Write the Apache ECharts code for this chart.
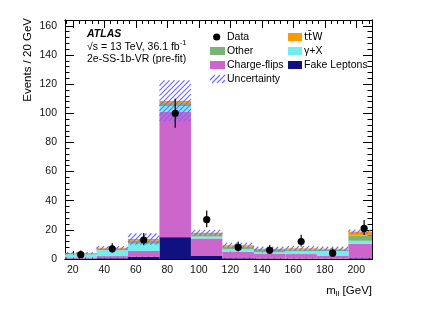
<!DOCTYPE html>
<html>
<head>
<meta charset="utf-8">
<script src="https://cdn.jsdelivr.net/npm/echarts@6/dist/echarts.min.js"></script>
<style>
html,body{margin:0;padding:0;background:#fff;}
#chart{width:432px;height:310px;}
</style>
</head>
<body>
<div id="chart"></div>
<script>
// ---- data ----
const binLow  = [15, 35, 55, 75, 95, 115, 135, 155, 175, 195];
const binHigh = [35, 55, 75, 95, 115, 135, 155, 175, 195, 215];
const binCenter = [25, 45, 65, 85, 105, 125, 145, 165, 185, 205];

const fakeLeptons = [0.3, 0.5, 1.5, 15, 2, 0.5, 0.3, 0.2, 0.2, 0.5];
const chargeFlips = [0.8, 1.5, 4, 86, 12, 4.5, 3.1, 3.2, 1.8, 10];
const gammaX      = [2, 4, 5, 4, 1.5, 1.6, 1.2, 2.1, 3.5, 2];
const other       = [0.7, 1, 2, 2, 1.5, 1.8, 1.5, 1.1, 0.9, 3.5];
const ttW         = [0.3, 0.7, 1.2, 1.5, 1, 1, 0.9, 0.7, 0.6, 2.8];
const uncertainty = [0.6, 1.2, 3.8, 14, 2, 1.6, 1.4, 1.6, 1.4, 1.4];

const dataY    = [3, 7, 13, 100, 27, 8, 6, 12, 4, 21];
const dataErrDn = [1.6, 2.6, 3.6, 10, 5.2, 2.8, 2.4, 3.4, 1.9, 4.6];
const dataErrUp = [2.9, 3.8, 4.8, 10, 6.3, 4.0, 3.6, 4.6, 3.2, 5.7];

const xMajorTicks = [20, 40, 60, 80, 100, 120, 140, 160, 180, 200];
const yMajorTicks = [0, 20, 40, 60, 80, 100, 120, 140, 160];

// ---- styling ----
const FONT = 'Liberation Sans, Arial, Helvetica, sans-serif';
const HATCH_COLOR = '#6a6aff';
const components = [
  {name: 'Fake Leptons', values: fakeLeptons, color: '#101080'},
  {name: 'Charge-flips', values: chargeFlips, color: '#cc66cc'},
  {name: '\u03b3+X', values: gammaX, color: '#72eeee'},
  {name: 'Other', values: other, color: '#78b478'},
  {name: 't\u0074\u0304W', values: ttW, color: '#ff9900'}
];

// diagonal "/" hatch lines clipped to a rectangle (style only)
function hatchLines(r, step) {
  const out = [];
  const x0 = r.x, y0 = r.y, x1 = r.x + r.width, y1 = r.y + r.height;
  const cStart = Math.ceil((x0 + y0) / step) * step;
  for (let c = cStart; c <= x1 + y1; c += step) {
    const xa = Math.max(x0, c - y1);
    const xb = Math.min(x1, c - y0);
    if (xb <= xa) continue;
    out.push({type: 'line', shape: {x1: xa, y1: c - xa, x2: xb, y2: c - xb},
              style: {stroke: HATCH_COLOR, lineWidth: 1.1}});
  }
  return out;
}

const xMinorTicks = [];
for (let v = 16; v <= 210; v += 4) xMinorTicks.push(v);
const yMinorTicks = [];
for (let v = 0; v <= 164; v += 4) yMinorTicks.push(v);

function binRect(params, api) {
  const p1 = api.coord([api.value(0), api.value(3)]);
  const p2 = api.coord([api.value(1), api.value(2)]);
  const cs = params.coordSys;
  return echarts.graphic.clipRectByRect(
    {x: p1[0], y: p1[1], width: p2[0] - p1[0], height: p2[1] - p1[1]},
    {x: cs.x, y: cs.y, width: cs.width, height: cs.height});
}

const series = [];
const cum = binLow.map(() => 0);
components.forEach(comp => {
  const d = comp.values.map((v, i) => {
    const base = cum[i];
    cum[i] += v;
    return [binLow[i], binHigh[i], base, cum[i]];
  });
  series.push({
    type: 'custom', name: comp.name, z: 2,
    renderItem: (params, api) => {
      const s = binRect(params, api);
      if (!s) return null;
      return {type: 'rect', shape: s, style: {fill: comp.color}};
    },
    encode: {x: [0, 1], y: [2, 3]},
    data: d, silent: true
  });
});
series.push({
  type: 'custom', name: 'Uncertainty', z: 3,
  renderItem: (params, api) => {
    const s = binRect(params, api);
    if (!s) return null;
    return {type: 'group', children: hatchLines(s, 5)};
  },
  encode: {x: [0, 1], y: [2, 3]},
  data: cum.map((t, i) => [binLow[i], binHigh[i], t - uncertainty[i], t + uncertainty[i]]),
  silent: true
});
series.push({
  type: 'custom', name: 'Data', z: 5,
  renderItem: (params, api) => {
    const x = api.value(0), y = api.value(1);
    const c = api.coord([x, y]);
    const lo = api.coord([x, y - api.value(2)]);
    const hi = api.coord([x, y + api.value(3)]);
    return {type: 'group', children: [
      {type: 'line', shape: {x1: c[0], y1: lo[1], x2: c[0], y2: hi[1]}, style: {stroke: '#000', lineWidth: 1.2}},
      {type: 'circle', shape: {cx: c[0], cy: c[1], r: 3.6}, style: {fill: '#000'}}
    ]};
  },
  encode: {x: 0, y: 1},
  data: dataY.map((v, i) => [binCenter[i], v, dataErrDn[i], dataErrUp[i]]),
  silent: true
});

function xAx(pos, ticks, len, labels) {
  return {
    type: 'value', position: pos, min: 15, max: 210, gridIndex: 0,
    axisLine: {show: true, onZero: false, lineStyle: {color: '#000', width: 1}},
    axisTick: {show: true, inside: true, length: len, customValues: ticks, lineStyle: {color: '#000', width: 1}},
    axisLabel: labels ? {show: true, customValues: xMajorTicks, fontSize: 10.5, color: '#111', fontFamily: FONT, margin: 6} : {show: false},
    splitLine: {show: false}
  };
}
function yAx(pos, ticks, len, labels) {
  return {
    type: 'value', position: pos, min: 0, max: 164, gridIndex: 0,
    axisLine: {show: true, onZero: false, lineStyle: {color: '#000', width: 1}},
    axisTick: {show: true, inside: true, length: len, customValues: ticks, lineStyle: {color: '#000', width: 1}},
    axisLabel: labels ? {show: true, customValues: yMajorTicks, fontSize: 10.5, color: '#111', fontFamily: FONT, margin: 8} : {show: false},
    splitLine: {show: false}
  };
}

const legendCol1X = 210, legendCol2X = 288;
const graphics = [
  {type: 'text', left: 87, top: 29, style: {text: 'ATLAS', font: 'italic bold 10.5px ' + FONT, fill: '#000'}},
  {type: 'text', left: 87, top: 39, style: {
    text: '{a|\u221As = 13 TeV, 36.1 fb}{s|-1}',
    rich: {a: {fontSize: 10.5, fontFamily: FONT, fill: '#000', verticalAlign: 'bottom'},
           s: {fontSize: 7.5, fontFamily: FONT, fill: '#000', verticalAlign: 'top', padding: [0, 0, 6, 0]}}
  }},
  {type: 'text', left: 87, top: 54, style: {text: '2e-SS-1b-VR (pre-fit)', font: '10.5px ' + FONT, fill: '#000'}},
  // legend
  {type: 'circle', shape: {cx: 216.7, cy: 37, r: 3.6}, style: {fill: '#000'}},
  {type: 'text', x: 227, y: 37, style: {text: 'Data', font: '10.5px ' + FONT, fill: '#000', verticalAlign: 'middle'}},
  {type: 'rect', shape: {x: legendCol1X, y: 47, width: 15, height: 8}, style: {fill: components[3].color}},
  {type: 'text', x: 227, y: 51, style: {text: components[3].name, font: '10.5px ' + FONT, fill: '#000', verticalAlign: 'middle'}},
  {type: 'rect', shape: {x: legendCol1X, y: 61, width: 15, height: 8}, style: {fill: components[1].color}},
  {type: 'text', x: 227, y: 65, style: {text: components[1].name, font: '10.5px ' + FONT, fill: '#000', verticalAlign: 'middle'}},
  {type: 'group', children: hatchLines({x: legendCol1X, y: 75, width: 15, height: 8}, 5)},
  {type: 'text', x: 227, y: 79, style: {text: 'Uncertainty', font: '10.5px ' + FONT, fill: '#000', verticalAlign: 'middle'}},
  {type: 'rect', shape: {x: legendCol2X, y: 33, width: 14, height: 8}, style: {fill: components[4].color}},
  {type: 'text', x: 304, y: 37, style: {text: components[4].name, font: '10.5px DejaVu Sans, ' + FONT, fill: '#000', verticalAlign: 'middle'}},
  {type: 'rect', shape: {x: legendCol2X, y: 47, width: 14, height: 8}, style: {fill: components[2].color}},
  {type: 'text', x: 304, y: 51, style: {text: components[2].name, font: '10.5px ' + FONT, fill: '#000', verticalAlign: 'middle'}},
  {type: 'rect', shape: {x: legendCol2X, y: 61, width: 14, height: 8}, style: {fill: components[0].color}},
  {type: 'text', x: 304, y: 65, style: {text: components[0].name, font: '10.5px ' + FONT, fill: '#000', verticalAlign: 'middle'}},
  // axis titles
  {type: 'text', x: 28, y: 18, rotation: Math.PI / 2, style: {text: 'Events / 20 GeV', font: '11.5px ' + FONT, fill: '#000', align: 'right', verticalAlign: 'middle'}},
  {type: 'text', x: 372, y: 291, style: {
    text: '{m|m}{s|ll}{m| [GeV]}', align: 'right', verticalAlign: 'middle',
    rich: {m: {fontSize: 11.5, fontFamily: FONT, fill: '#000'},
           s: {fontSize: 8, fontFamily: FONT, fill: '#000', padding: [6, 0, 0, 0]}}
  }}
];

const chart = echarts.init(document.getElementById('chart'), null, {renderer: 'canvas'});
chart.setOption({
  animation: false,
  backgroundColor: '#fff',
  grid: {left: 65, right: 60, top: 20, bottom: 51, containLabel: false},
  xAxis: [xAx('bottom', xMajorTicks, 8, true), xAx('bottom', xMinorTicks, 4, false),
          xAx('top', xMajorTicks, 8, false), xAx('top', xMinorTicks, 4, false)],
  yAxis: [yAx('left', yMajorTicks, 9, true), yAx('left', yMinorTicks, 4.5, false),
          yAx('right', yMajorTicks, 9, false), yAx('right', yMinorTicks, 4.5, false)],
  series: series,
  graphic: graphics
});
</script>
</body>
</html>
